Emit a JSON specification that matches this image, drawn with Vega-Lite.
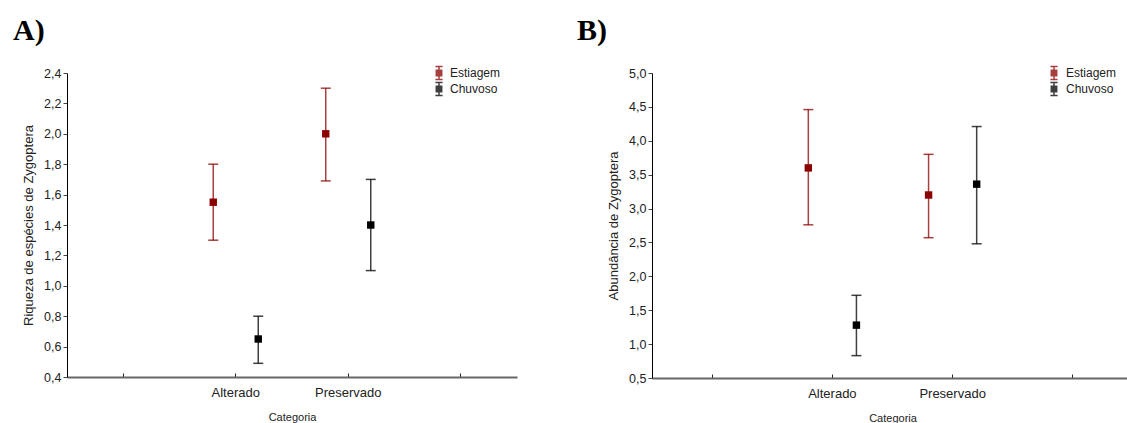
{
  "$schema": "https://vega.github.io/schema/vega-lite/v6.json",
  "background": "white",
  "padding": {"left": 13, "top": 16, "right": 0, "bottom": 0},
  "spacing": 60,
  "config": {
    "font": "Liberation Sans",
    "view": {"stroke": null},
    "axis": {"grid": false, "labelFont": "Liberation Sans", "titleFont": "Liberation Sans", "labelColor": "#222", "titleColor": "#222", "titleFontWeight": "normal", "labelOverlap": false},
    "title": {"font": "Liberation Serif", "fontSize": 30, "fontWeight": "bold", "anchor": "start", "frame": "group", "baseline": "alphabetic", "color": "#000"},
    "legend": {"labelFont": "Liberation Sans", "labelFontSize": 12, "labelColor": "#222", "padding": 0, "rowPadding": -4, "labelOffset": 5, "symbolSize": 36, "title": null}
  },
  "datasets": {
    "A": [
      {"categoria": "Alterado", "periodo": "Estiagem", "media": 1.55, "inf": 1.30, "sup": 1.80},
      {"categoria": "Alterado", "periodo": "Chuvoso", "media": 0.65, "inf": 0.49, "sup": 0.80},
      {"categoria": "Preservado", "periodo": "Estiagem", "media": 2.00, "inf": 1.69, "sup": 2.30},
      {"categoria": "Preservado", "periodo": "Chuvoso", "media": 1.40, "inf": 1.10, "sup": 1.70}
    ],
    "B": [
      {"categoria": "Alterado", "periodo": "Estiagem", "media": 3.60, "inf": 2.76, "sup": 4.46},
      {"categoria": "Alterado", "periodo": "Chuvoso", "media": 1.28, "inf": 0.83, "sup": 1.72},
      {"categoria": "Preservado", "periodo": "Estiagem", "media": 3.20, "inf": 2.57, "sup": 3.80},
      {"categoria": "Preservado", "periodo": "Chuvoso", "media": 3.36, "inf": 2.48, "sup": 4.21}
    ]
  },
  "resolve": {"scale": {"x": "independent", "y": "independent", "color": "independent", "xOffset": "independent"}, "legend": {"color": "independent"}},
  "hconcat": [
    {
      "width": 450,
      "height": 304,
      "title": {"text": "A)", "dx": -54, "offset": 21},
      "data": {"name": "A"},
      "encoding": {
        "x": {"field": "categoria", "type": "nominal",
          "scale": {"domain": [" ", "Alterado", "Preservado", "  "], "paddingInner": 0, "paddingOuter": 0},
          "axis": {"title": "Categoria", "labelAngle": 0, "labelFontSize": 13, "titleFontSize": 11, "domainColor": "#666", "domainWidth": 2, "tickColor": "#222", "tickSize": -4, "labelPadding": 13.5, "titlePadding": 12}},
        "xOffset": {"field": "periodo", "type": "nominal", "scale": {"domain": ["Estiagem", "Chuvoso"], "paddingInner": 0, "paddingOuter": 0.25}},
        "color": {"field": "periodo", "type": "nominal", "scale": {"domain": ["Estiagem", "Chuvoso"], "range": ["#8B0000", "#000000"]},
          "legend": {"orient": "none", "legendX": 366, "legendY": -6, "symbolType": "M-0.9,-0.9H0.9V0.9H-0.9Z M-1.2,-2.17H1.2 M0,-2.17V2.17 M-1.2,2.17H1.2",
            "encode": {"symbols": {"update": {"stroke": {"signal": "datum.value === 'Estiagem' ? '#8B0000' : '#000000'"}, "strokeWidth": {"value": 1.3}}}}}},
        "y": {"field": "media", "type": "quantitative",
          "scale": {"domain": [0.4, 2.4], "nice": false, "zero": false},
          "axis": {"title": "Riqueza de espécies de Zygoptera", "values": [0.4, 0.6, 0.8, 1.0, 1.2, 1.4, 1.6, 1.8, 2.0, 2.2, 2.4], "labelOverlap": false, "labelFlush": false,
            "labelExpr": "replace(format(datum.value, '.1f'), '.', ',')", "labelFontSize": 12.5, "titleFontSize": 13, "domainColor": "#000", "tickColor": "#444", "tickSize": 4, "titlePadding": 8}}
      },
      "layer": [
        {"mark": {"type": "rule", "strokeWidth": 1.5, "opacity": 0.75}, "encoding": {"y": {"field": "inf", "type": "quantitative"}, "y2": {"field": "sup"}}},
        {"mark": {"type": "tick", "size": 10, "thickness": 1.5, "opacity": 0.75}, "encoding": {"y": {"field": "inf", "type": "quantitative"}}},
        {"mark": {"type": "tick", "size": 10, "thickness": 1.5, "opacity": 0.75}, "encoding": {"y": {"field": "sup", "type": "quantitative"}}},
        {"mark": {"type": "point", "shape": "square", "filled": true, "size": 55, "opacity": 1}, "encoding": {}}
      ]
    },
    {
      "width": 481,
      "height": 305,
      "title": {"text": "B)", "dx": -75, "offset": 21},
      "data": {"name": "B"},
      "encoding": {
        "x": {"field": "categoria", "type": "nominal",
          "scale": {"domain": [" ", "Alterado", "Preservado", "  "], "paddingInner": 0, "paddingOuter": 0},
          "axis": {"title": "Categoria", "labelAngle": 0, "labelFontSize": 13, "titleFontSize": 11, "domainColor": "#666", "domainWidth": 2, "tickColor": "#222", "tickSize": -4, "labelPadding": 13.5, "titlePadding": 12}},
        "xOffset": {"field": "periodo", "type": "nominal", "scale": {"domain": ["Estiagem", "Chuvoso"], "paddingInner": 0, "paddingOuter": 0.25}},
        "color": {"field": "periodo", "type": "nominal", "scale": {"domain": ["Estiagem", "Chuvoso"], "range": ["#8B0000", "#000000"]},
          "legend": {"orient": "none", "legendX": 396, "legendY": -6, "labelOffset": 6, "symbolType": "M-0.9,-0.9H0.9V0.9H-0.9Z M-1.2,-2.17H1.2 M0,-2.17V2.17 M-1.2,2.17H1.2",
            "encode": {"symbols": {"update": {"stroke": {"signal": "datum.value === 'Estiagem' ? '#8B0000' : '#000000'"}, "strokeWidth": {"value": 1.3}}}}}},
        "y": {"field": "media", "type": "quantitative",
          "scale": {"domain": [0.5, 5.0], "nice": false, "zero": false},
          "axis": {"title": "Abundância de Zygoptera", "values": [0.5, 1.0, 1.5, 2.0, 2.5, 3.0, 3.5, 4.0, 4.5, 5.0], "labelOverlap": false, "labelFlush": false,
            "labelExpr": "replace(format(datum.value, '.1f'), '.', ',')", "labelFontSize": 12.5, "titleFontSize": 13, "domainColor": "#000", "tickColor": "#444", "tickSize": 4, "titlePadding": 8}}
      },
      "layer": [
        {"mark": {"type": "rule", "strokeWidth": 1.5, "opacity": 0.75}, "encoding": {"y": {"field": "inf", "type": "quantitative"}, "y2": {"field": "sup"}}},
        {"mark": {"type": "tick", "size": 10, "thickness": 1.5, "opacity": 0.75}, "encoding": {"y": {"field": "inf", "type": "quantitative"}}},
        {"mark": {"type": "tick", "size": 10, "thickness": 1.5, "opacity": 0.75}, "encoding": {"y": {"field": "sup", "type": "quantitative"}}},
        {"mark": {"type": "point", "shape": "square", "filled": true, "size": 55, "opacity": 1}, "encoding": {}}
      ]
    }
  ]
}
